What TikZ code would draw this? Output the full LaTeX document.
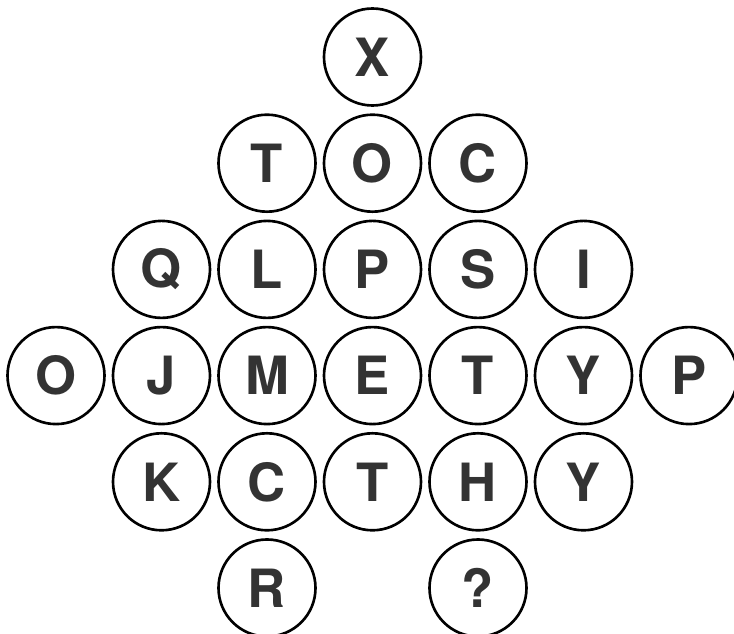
\documentclass[tikz,border=0pt]{standalone}
\usepackage{fontspec}
\setmainfont{TeX Gyre Heros}
\usepackage{xcolor}
\usepackage{tikz}
\usetikzlibrary{positioning}

\definecolor{ink}{HTML}{333333}

\begin{document}
\begin{tikzpicture}[
  x=2.11cm, y=-2.124cm,
  disc/.style={draw, circle, line width=1.5pt, minimum size=1.94cm, inner sep=0pt, text=ink, font=\fontsize{30}{30}\selectfont\bfseries}
]
\useasboundingbox (-1.12cm,1.14cm) rectangle (13.56cm,-11.54cm);
% row 0
\node[disc] (a3) at (3,0) {X};
% row 1
\node[disc] (b2) at (2,1) {T};
\node[disc] (b3) at (3,1) {O};
\node[disc] (b4) at (4,1) {C};
% row 2
\node[disc] (c1) at (1,2) {Q};
\node[disc] (c2) at (2,2) {L};
\node[disc] (c3) at (3,2) {P};
\node[disc] (c4) at (4,2) {S};
\node[disc] (c5) at (5,2) {I};
% row 3
\node[disc] (d0) at (0,3) {O};
\node[disc] (d1) at (1,3) {J};
\node[disc] (d2) at (2,3) {M};
\node[disc] (d3) at (3,3) {E};
\node[disc] (d4) at (4,3) {T};
\node[disc] (d5) at (5,3) {Y};
\node[disc] (d6) at (6,3) {P};
% row 4
\node[disc] (e1) at (1,4) {K};
\node[disc] (e2) at (2,4) {C};
\node[disc] (e3) at (3,4) {T};
\node[disc] (e4) at (4,4) {H};
\node[disc] (e5) at (5,4) {Y};
% row 5
\node[disc] (f2) at (2,5) {R};
\node[disc] (f4) at (4,5) {?};
\end{tikzpicture}
\end{document}
